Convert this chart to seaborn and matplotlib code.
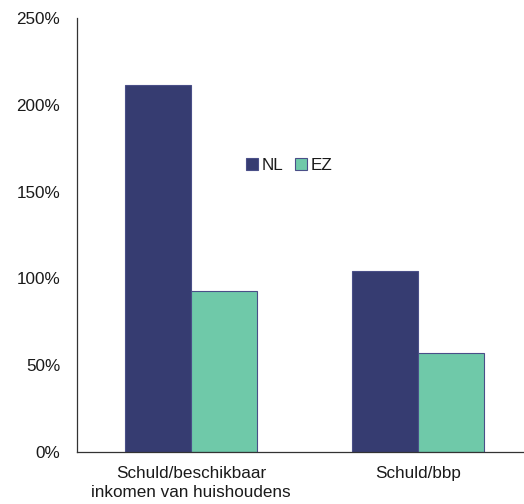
import matplotlib
matplotlib.use("Agg")
import matplotlib.pyplot as plt
import pandas as pd
import seaborn as sns

# --------- DATA ----------
categories = ["Schuld/beschikbaar\ninkomen van huishoudens", "Schuld/bbp"]
nl_values = [211.5, 104.5]
ez_values = [93, 57]
series = ["NL", "EZ"]
y_ticks = [0, 50, 100, 150, 200, 250]
# -------------------------

df = pd.DataFrame({
    "cat": categories * 2,
    "value": nl_values + ez_values,
    "land": [series[0]] * len(categories) + [series[1]] * len(categories),
})

sns.set_style("white")
plt.rcParams["font.family"] = ["Liberation Sans", "DejaVu Sans"]
plt.rcParams["text.color"] = "#1a1a1a"
plt.rcParams["xtick.color"] = "#1a1a1a"
plt.rcParams["ytick.color"] = "#1a1a1a"

fig = plt.figure(figsize=(5.24, 5.04), dpi=100)
ax = fig.add_axes([77 / 524, 52 / 504, 447 / 524, 434 / 504])

palette = {"NL": "#363c71", "EZ": "#6fc9a9"}
sns.barplot(data=df, x="cat", y="value", hue="land", palette=palette,
            width=0.58, saturation=1, edgecolor="#4a4f88", linewidth=0.8, ax=ax)

ax.set_xlim(-0.502, 1.467)
ax.set_ylim(0, 250)
ax.set_yticks(y_ticks)
ax.set_yticklabels([f"{t}%" for t in y_ticks], fontsize=12.3)
ax.tick_params(axis="x", labelsize=12.3, length=0, pad=10)
ax.tick_params(axis="y", length=0, pad=12)
for lbl in ax.get_xticklabels():
    lbl.set_linespacing(1.35)
ax.set_xlabel("")
ax.set_ylabel("")

for side in ["top", "right"]:
    ax.spines[side].set_visible(False)
for side in ["left", "bottom"]:
    ax.spines[side].set_color("#333333")
    ax.spines[side].set_linewidth(0.9)

leg = ax.legend(loc="center", bbox_to_anchor=(0.475, 0.66), ncol=2, frameon=False,
                fontsize=12.3, handlelength=0.7, handleheight=0.7, handletextpad=0.2,
                columnspacing=0.7)

fig.savefig("out.png", dpi=100)
